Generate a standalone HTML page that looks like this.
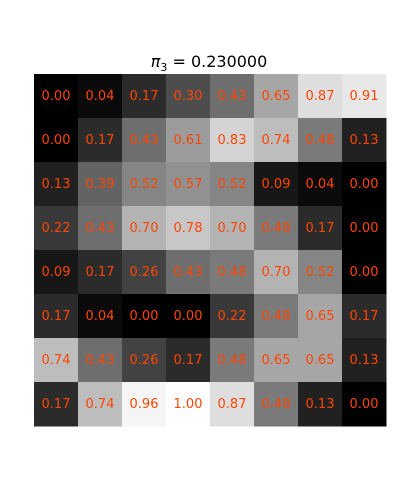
<!DOCTYPE html>
<html><head><meta charset="utf-8"><style>
html,body{margin:0;padding:0;background:#fff;width:400px;height:500px;overflow:hidden}
svg{display:block}
</style></head><body>
<svg id="chart" width="400" height="500" xmlns="http://www.w3.org/2000/svg">
<text x="209" y="67" text-anchor="middle" font-family="DejaVu Sans, Liberation Sans, sans-serif" font-size="16" fill="#000"><tspan font-style="italic">π</tspan><tspan font-size="11" dy="4">3</tspan><tspan dy="-4"> = 0.230000</tspan></text>
<g id="cells"></g>
</svg>
<script>
const rowLabels = [0,1,2,3,4,5,6,7];
const colLabels = [0,1,2,3,4,5,6,7];
const row0 = [0.00,0.04,0.17,0.30,0.43,0.65,0.87,0.91];
const row1 = [0.00,0.17,0.43,0.61,0.83,0.74,0.48,0.13];
const row2 = [0.13,0.39,0.52,0.57,0.52,0.09,0.04,0.00];
const row3 = [0.22,0.43,0.70,0.78,0.70,0.48,0.17,0.00];
const row4 = [0.09,0.17,0.26,0.43,0.48,0.70,0.52,0.00];
const row5 = [0.17,0.04,0.00,0.00,0.22,0.48,0.65,0.17];
const row6 = [0.74,0.43,0.26,0.17,0.48,0.65,0.65,0.13];
const row7 = [0.17,0.74,0.96,1.00,0.87,0.48,0.13,0.00];
const values = [row0,row1,row2,row3,row4,row5,row6,row7];
const x0=34, y0=74, W=352, H=352;
const xScale = c => x0 + c*W/colLabels.length;
const yScale = r => y0 + r*H/rowLabels.length;
const cw = W/colLabels.length, ch = H/rowLabels.length;
const vmin = Math.min(...values.flat()), vmax = Math.max(...values.flat());
const g = document.getElementById('cells');
const NS='http://www.w3.org/2000/svg';
values.forEach((row,r)=>row.forEach((v,c)=>{
  const t=(v-vmin)/(vmax-vmin||1);
  const gr=Math.round(255*t);
  const rect=document.createElementNS(NS,'rect');
  rect.setAttribute('x',xScale(c));rect.setAttribute('y',yScale(r));
  rect.setAttribute('width',cw+0.5);rect.setAttribute('height',ch+0.5);
  rect.setAttribute('fill',`rgb(${gr},${gr},${gr})`);
  
  
  g.appendChild(rect);
  const tx=document.createElementNS(NS,'text');
  tx.setAttribute('x',xScale(c)+cw/2);tx.setAttribute('y',yScale(r)+ch/2+4);
  tx.setAttribute('text-anchor','middle');
  tx.setAttribute('font-family','DejaVu Sans, Liberation Sans, sans-serif');
  tx.setAttribute('font-size','13');tx.setAttribute('fill','#ff4500');
  tx.textContent=v.toFixed(2);
  
  
  g.appendChild(tx);
}));
</script>
</body></html>
